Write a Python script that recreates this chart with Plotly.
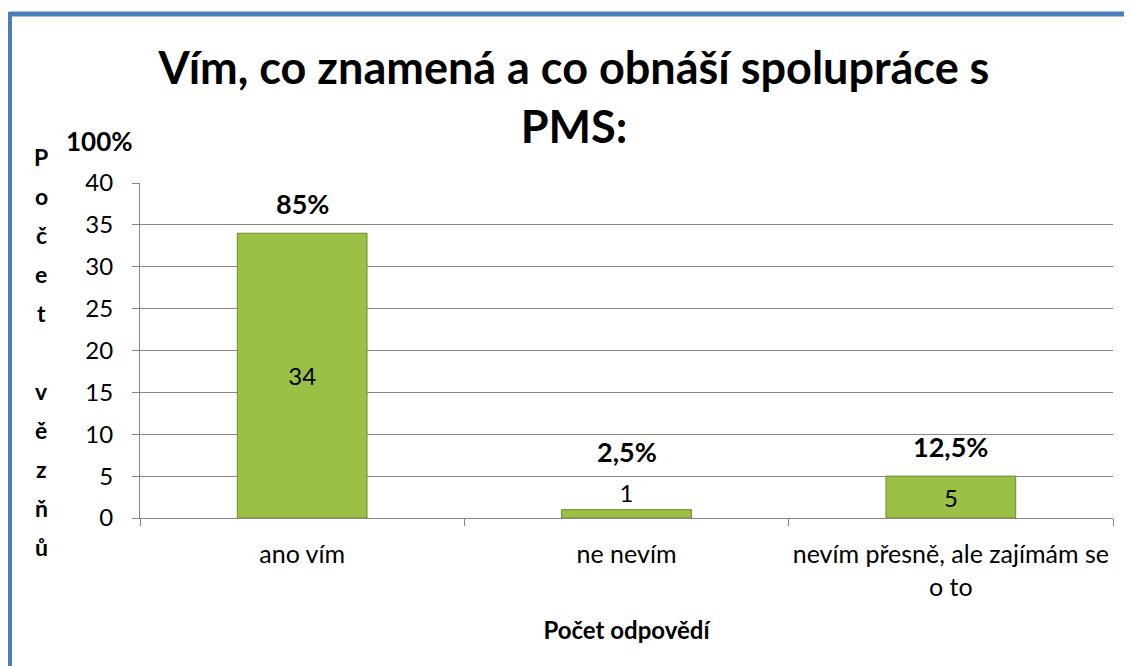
import plotly.graph_objects as go

# data
categories = ["ano vím", "ne nevím", "nevím přesně, ale zajímám se<br>o to"]
counts = [34, 1, 5]
percent_labels = ["85%", "2,5%", "12,5%"]
y_title_letters = ["P", "o", "č", "e", "t", "", "v", "ě", "z", "ň", "ů"]

FONT = "Lato"
W, H = 1132, 666
OFF = 8  # okraj stranky (body margin)
# pozice plochy grafu na obrazovce: x 140..1113, y 183..518
ML, MT = 140 - OFF, 183 - OFF
MR, MB = W - (1113 - OFF), H - (518 - OFF)
PW, PH = W - ML - MR, H - MT - MB
GRID = "#868686"
BLUE = "#4a7ebb"


def px_x(px):
    return (px - OFF - ML) / PW


def px_y(py):
    return (H - MB - (py - OFF)) / PH


fig = go.Figure()

# sloupce
fig.add_trace(go.Bar(
    x=categories, y=counts,
    text=[str(c) for c in counts],
    textposition=["inside" if c > 2 else "outside" for c in counts],
    insidetextanchor="middle",
    textangle=0,
    cliponaxis=False,
    textfont=dict(family=FONT, size=24, color="black"),
    marker=dict(color="#9ac045", line=dict(color="#6e8b2a", width=1)),
    showlegend=False,
))

# procenta nad sloupci
for cat, val, lab in zip(categories, counts, percent_labels):
    fig.add_annotation(x=cat, y=val, text="<b>%s</b>" % lab, showarrow=False,
                       yanchor="bottom", yshift=40 if val <= 2 else 11,
                       font=dict(family=FONT, size=27, color="black"))

# popisek osy y po pismenech
for i, ch in enumerate(y_title_letters):
    if not ch:
        continue
    fig.add_annotation(xref="paper", yref="paper", x=px_x(41), y=px_y(157 + 39 * i),
                       text="<b>%s</b>" % ch, showarrow=False,
                       xanchor="center", yanchor="middle",
                       font=dict(family=FONT, size=23, color="black"))

fig.add_annotation(xref="paper", yref="paper", x=px_x(135), y=px_y(141),
                   text="<b>100%</b>", showarrow=False,
                   xanchor="right", yanchor="middle",
                   font=dict(family=FONT, size=26, color="black"))

# modry ramecek vlevo a nahore
fig.add_shape(type="line", xref="paper", yref="paper",
              x0=px_x(9.5), x1=px_x(W + 20), y0=px_y(14), y1=px_y(14),
              line=dict(color=BLUE, width=5))
fig.add_shape(type="line", xref="paper", yref="paper",
              x0=px_x(9.5), x1=px_x(9.5), y0=px_y(12), y1=px_y(H + 20),
              line=dict(color=BLUE, width=5))

fig.update_layout(
    width=W, height=H,
    margin=dict(l=ML, r=MR, t=MT, b=MB, autoexpand=False),
    paper_bgcolor="white", plot_bgcolor="white",
    font=dict(family=FONT, color="black"),
    title=dict(text="<b>Vím, co znamená a co obnáší spolupráce s<br>PMS:</b>",
               x=0.5, xanchor="center", y=1 - 76 / H, yanchor="top",
               font=dict(family=FONT, size=45, color="black")),
    bargap=0.6,
)

fig.update_xaxes(
    automargin=False,
    tickangle=0,
    showline=True, linecolor=GRID, linewidth=1,
    ticks="outside", tickson="boundaries", ticklen=7, tickcolor=GRID,
    ticklabelstandoff=14,
    tickfont=dict(family=FONT, size=25, color="black"),
    title=dict(text="<b>Počet odpovědí</b>", standoff=22,
               font=dict(family=FONT, size=24, color="black")),
)
fig.update_yaxes(
    automargin=False,
    range=[0, 40], dtick=5,
    showgrid=True, gridcolor=GRID, gridwidth=1,
    showline=True, linecolor=GRID, linewidth=1,
    ticks="outside", ticklen=7, tickcolor=GRID,
    ticklabelstandoff=14,
    zeroline=False,
    tickfont=dict(family=FONT, size=24, color="black"),
)

fig.write_html("out.html")
